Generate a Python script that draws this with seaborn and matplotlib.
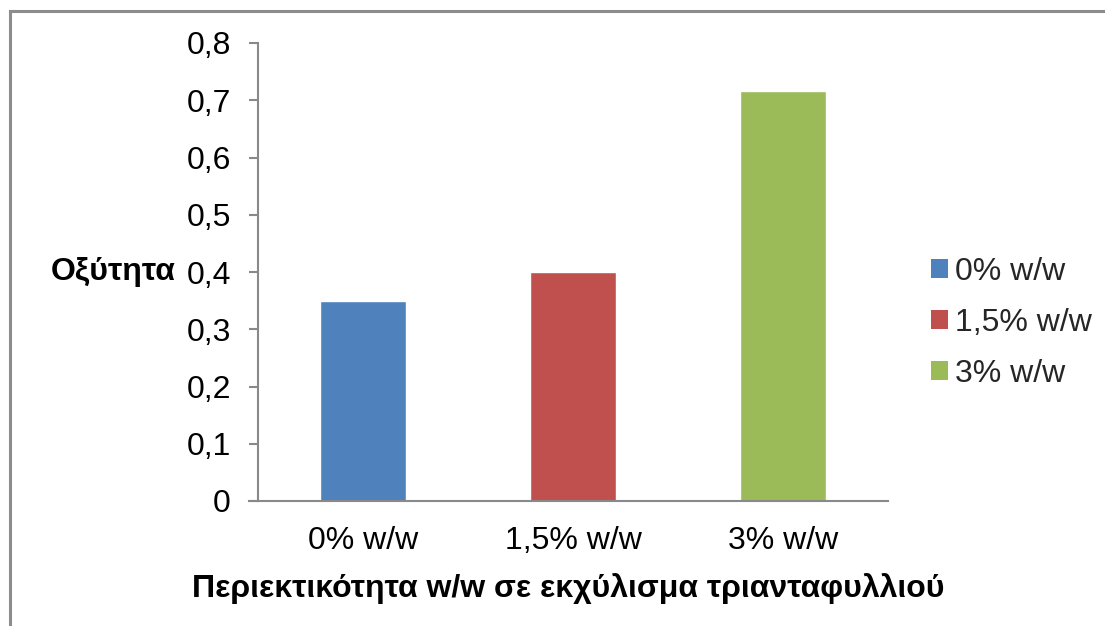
import matplotlib
matplotlib.use("Agg")
import matplotlib.pyplot as plt
import matplotlib.patches as mpatches
import seaborn as sns
import pandas as pd

categories = ["0% w/w", "1,5% w/w", "3% w/w"]
acidity = [0.35, 0.40, 0.717]
colors = ["#4F81BD", "#C0504D", "#9BBB59"]
y_ticks = [0, 0.1, 0.2, 0.3, 0.4, 0.5, 0.6, 0.7, 0.8]
y_tick_labels = ["0", "0,1", "0,2", "0,3", "0,4", "0,5", "0,6", "0,7", "0,8"]

sns.set_theme(style="white")
plt.rcParams["font.family"] = ["Liberation Sans", "DejaVu Sans"]

df = pd.DataFrame({"category": categories, "value": acidity})

fig = plt.figure(figsize=(11.05, 6.26), dpi=100)
ax = fig.add_axes([258 / 1105, 1 - 501 / 626, 630 / 1105, 458 / 626])

sns.barplot(data=df, x="category", y="value", hue="category",
            palette=colors, dodge=False, width=0.405, saturation=1,
            legend=False, ax=ax)

ax.set_xlim(-0.5, 2.5)
ax.set_ylim(0, 0.8)
ax.set_yticks(y_ticks)
ax.set_yticklabels(y_tick_labels, fontsize=23, color="black")
ax.tick_params(axis="x", labelsize=23, colors="black", length=0, pad=18)
ax.tick_params(axis="y", colors="black", length=6.5, width=1.5, pad=13,
               left=True, color="#898989")
for lab in ax.get_xticklabels():
    lab.set_color("black")
for t in ax.yaxis.get_major_ticks():
    t.tick1line.set_color("#898989")

for side in ["top", "right"]:
    ax.spines[side].set_visible(False)
for side in ["left", "bottom"]:
    ax.spines[side].set_color("#898989")
    ax.spines[side].set_linewidth(1.5)
ax.spines["bottom"].set_bounds(-0.5 - 9 / 210, 2.5)

ax.set_xlabel("Περιεκτικότητα w/w σε εκχύλισμα τριανταφυλλιού",
              fontsize=23, fontweight="bold", color="black")
ax.xaxis.set_label_coords(0.493, -0.19)
ax.xaxis.label.set_verticalalignment("center")
ax.set_ylabel("Οξύτητα", fontsize=23, fontweight="bold", rotation=0,
              color="black")
ax.yaxis.set_label_coords(-0.23, 0.5)
ax.yaxis.label.set_horizontalalignment("center")
ax.yaxis.label.set_verticalalignment("center")

handles = [mpatches.Patch(facecolor=c, edgecolor="none", label=l)
           for c, l in zip(colors, categories)]
ax.legend(handles=handles, loc="center left", bbox_to_anchor=(1.068, 0.389),
          frameon=False, fontsize=23, handlelength=0.53, handleheight=0.53,
          handletextpad=0.22, labelspacing=0.65, borderaxespad=0,
          borderpad=0)

fig.patches.append(mpatches.Rectangle((10 / 1105, -0.1), 1.2, 1 - 11 / 626 + 0.1,
                                      transform=fig.transFigure, fill=False,
                                      edgecolor="#8c8c8c", linewidth=2.2,
                                      figure=fig))

fig.savefig("out.png", dpi=100, facecolor="white")
